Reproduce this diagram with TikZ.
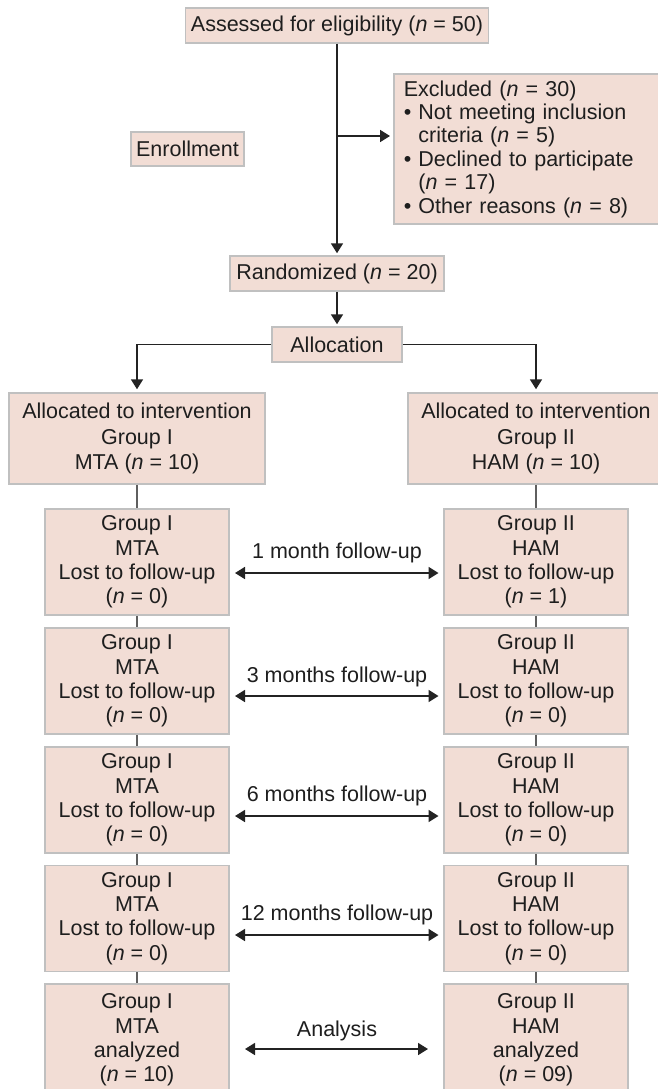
\documentclass[tikz,border=0pt]{standalone}
\usepackage{fontspec}
\setmainfont{Liberation Sans}
\usetikzlibrary{arrows.meta}
\definecolor{boxfill}{RGB}{242,221,213}
\definecolor{boxline}{RGB}{192,192,192}
\definecolor{arrcol}{RGB}{35,35,35}
\definecolor{concol}{RGB}{95,95,95}
\definecolor{txtcol}{RGB}{30,30,30}
\tikzset{
  box/.style={draw=boxline, fill=boxfill, line width=1.5pt, inner sep=0pt, align=center,
    text=txtcol, font=\fontsize{21.5}{24.3}\selectfont},
  gbox/.style={box, minimum width=184pt, minimum height=106pt},
  conn/.style={draw=concol, line width=1.5pt},
  arr/.style={draw=arrcol, line width=1.7pt, -{Triangle[length=10pt,width=12pt]}, shorten >=2pt},
  darr/.style={draw=arrcol, line width=1.7pt, {Triangle[length=10pt,width=12pt]}-{Triangle[length=10pt,width=12pt]}},
  lbl/.style={inner sep=0pt, text=txtcol, font=\fontsize{21.5}{24.3}\selectfont}
}
\begin{document}
\begin{tikzpicture}[x=1pt,y=-1pt]
\useasboundingbox (0,0) rectangle (658,1089);
\fill[white] (0,0) rectangle (658,1089);

% top part
\node[box, minimum width=303pt, minimum height=35pt] (assess) at (337,25.5) {Assessed for eligibility (\textit{n} = 50)};
\node[box, minimum width=113pt, minimum height=34pt] (enroll) at (187.5,149) {Enrollment};
\node[box, anchor=west, align=left, text width=247pt, inner xsep=10pt, minimum height=150pt,
      font=\fontsize{21.5}{23.4}\selectfont] (excl) at (393,149)
  {Excluded (\textit{n} = 30)\\
   • Not meeting inclusion\\
   \phantom{• }criteria (\textit{n} = 5)\\
   • Declined to participate\\
   \phantom{• }(\textit{n} = 17)\\
   • Other reasons (\textit{n} = 8)};
\node[box, minimum width=214pt, minimum height=35pt] (rand) at (337,273.5) {Randomized (\textit{n} = 20)};
\node[box, minimum width=130pt, minimum height=35pt] (alloc) at (337,344.5) {Allocation};

\node[box, minimum width=256pt, minimum height=91pt, font=\fontsize{21.5}{25.3}\selectfont] (allocL) at (137,438.5)
  {Allocated to intervention\\Group I\\MTA (\textit{n} = 10)};
\node[box, minimum width=256pt, minimum height=91pt, font=\fontsize{21.5}{25.3}\selectfont] (allocR) at (536,438.5)
  {Allocated to intervention\\Group II\\HAM (\textit{n} = 10)};

% group rows
\node[gbox] (L1) at (137,562) {Group I\\MTA\\Lost to follow-up\\(\textit{n} = 0)};
\node[gbox] (L2) at (137,681) {Group I\\MTA\\Lost to follow-up\\(\textit{n} = 0)};
\node[gbox] (L3) at (137,800) {Group I\\MTA\\Lost to follow-up\\(\textit{n} = 0)};
\node[gbox] (L4) at (137,918.5) {Group I\\MTA\\Lost to follow-up\\(\textit{n} = 0)};
\node[gbox, minimum height=112pt] (L5) at (137,1040) {Group I\\MTA\\analyzed\\(\textit{n} = 10)};

\node[gbox] (R1) at (536,562) {Group II\\HAM\\Lost to follow-up\\(\textit{n} = 1)};
\node[gbox] (R2) at (536,681) {Group II\\HAM\\Lost to follow-up\\(\textit{n} = 0)};
\node[gbox] (R3) at (536,800) {Group II\\HAM\\Lost to follow-up\\(\textit{n} = 0)};
\node[gbox] (R4) at (536,918.5) {Group II\\HAM\\Lost to follow-up\\(\textit{n} = 0)};
\node[gbox, minimum height=112pt] (R5) at (536,1040) {Group II\\HAM\\analyzed\\(\textit{n} = 09)};

% top connectors
\coordinate (br) at (337,136);
\draw[arr] (assess.south) -- (rand.north);
\draw[arr, shorten >=3pt] (br) -- (br -| excl.west);
\draw[arr] (rand.south) -- (alloc.north);
\draw[arr, shorten >=3pt] (alloc.west) -| (allocL.north);
\draw[arr, shorten >=3pt] (alloc.east) -| (allocR.north);

% vertical connectors
\draw[conn] (allocL.south) -- (L1.north);
\draw[conn] (L1.south) -- (L2.north);
\draw[conn] (L2.south) -- (L3.north);
\draw[conn] (L3.south) -- (L4.north);
\draw[conn] (L4.south) -- (L5.north);
\draw[conn] (allocR.south) -- (R1.north);
\draw[conn] (R1.south) -- (R2.north);
\draw[conn] (R2.south) -- (R3.north);
\draw[conn] (R3.south) -- (R4.north);
\draw[conn] (R4.south) -- (R5.north);

% follow-up arrows
\coordinate (a1l) at (235,573);   \coordinate (a1r) at (438.5,573);
\coordinate (a2l) at (235,696);   \coordinate (a2r) at (438.5,696);
\coordinate (a3l) at (235,816);   \coordinate (a3r) at (438.5,816);
\coordinate (a4l) at (235,935);   \coordinate (a4r) at (438.5,935);
\coordinate (a5l) at (245,1049);  \coordinate (a5r) at (428,1049);
\draw[darr] (a1l) -- (a1r);
\draw[darr] (a2l) -- (a2r);
\draw[darr] (a3l) -- (a3r);
\draw[darr] (a4l) -- (a4r);
\draw[darr] (a5l) -- (a5r);
\node[lbl] (t1) at (337,553) {1 month follow-up};
\node[lbl] (t2) at (337,677) {3 months follow-up};
\node[lbl] (t3) at (337,796) {6 months follow-up};
\node[lbl] (t4) at (337,915) {12 months follow-up};
\node[lbl] (t5) at (337,1031) {Analysis};
\end{tikzpicture}
\end{document}
